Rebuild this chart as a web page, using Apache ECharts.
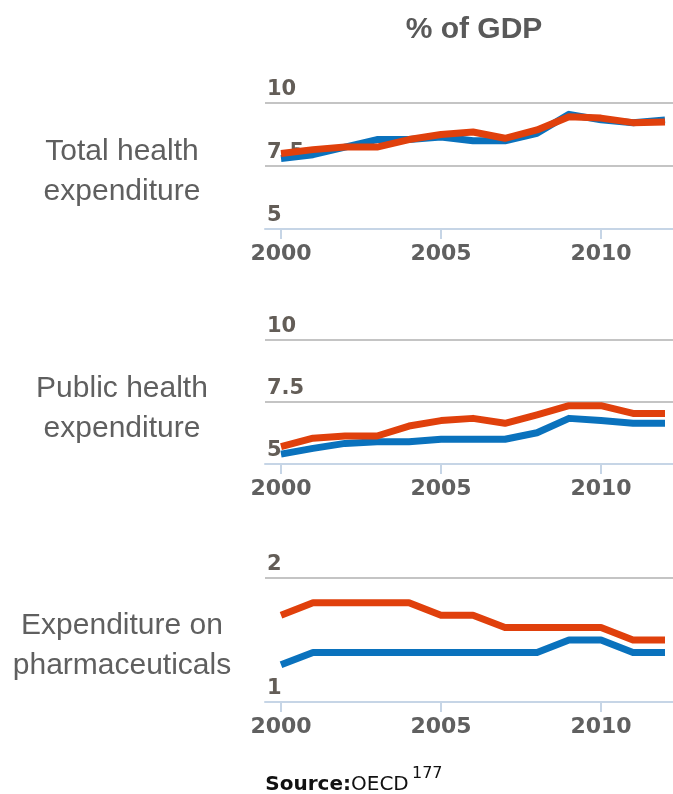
<!DOCTYPE html>
<html>
<head>
<meta charset="utf-8">
<title>% of GDP</title>
<script src="https://cdn.jsdelivr.net/npm/echarts@6/dist/echarts.min.js"></script>
<style>
  html, body { margin: 0; padding: 0; background: #fff; }
  #chart { width: 673px; height: 794px; }
</style>
</head>
<body>
<div id="chart"></div>
<script>
// data
const years = ['2000', '2001', '2002', '2003', '2004', '2005', '2006', '2007', '2008', '2009', '2010', '2011', '2012']

const totalBlue = [7.8, 7.95, 8.25, 8.55, 8.55, 8.65, 8.5, 8.5, 8.8, 9.55, 9.33, 9.22, 9.33]
const totalRed = [8.0, 8.15, 8.25, 8.25, 8.55, 8.75, 8.85, 8.6, 8.93, 9.45, 9.4, 9.22, 9.25]

const publicBlue = [5.4, 5.63, 5.83, 5.9, 5.9, 6.0, 6.0, 6.0, 6.26, 6.84, 6.75, 6.64, 6.64]
const publicRed = [5.7, 6.04, 6.13, 6.13, 6.53, 6.75, 6.84, 6.64, 6.98, 7.35, 7.35, 7.04, 7.04]

const pharmaBlue = [1.3, 1.4, 1.4, 1.4, 1.4, 1.4, 1.4, 1.4, 1.4, 1.5, 1.5, 1.4, 1.4]
const pharmaRed = [1.7, 1.8, 1.8, 1.8, 1.8, 1.7, 1.7, 1.6, 1.6, 1.6, 1.6, 1.5, 1.5]

const panelLabels = ['Total health\nexpenditure', 'Public health\nexpenditure', 'Expenditure on\npharmaceuticals']
const yMin = [5, 5, 1]
const yMax = [10, 10, 2]
const yStep = [2.5, 2.5, 1]

const blue = '#0a72bd'
const red = '#e0400c'

const gridTops = [103, 340, 578]
const gridHeights = [126, 124, 124]
const labelMiddles = [172, 409, 646]

const chart = echarts.init(document.getElementById('chart'))

const grids = gridTops.map((top, i) => ({
  left: 265,
  right: -8,
  top: top,
  height: gridHeights[i],
  containLabel: false,
  outerBoundsMode: 'none'
}))

const xAxes = gridTops.map((t, i) => ({
  type: 'category',
  gridIndex: i,
  data: years,
  boundaryGap: true,
  axisLine: { show: true, lineStyle: { color: '#c6d5e6', width: 2 } },
  axisTick: { show: true, alignWithLabel: true, interval: 4, length: 10, lineStyle: { color: '#c6d5e6', width: 2 } },
  axisLabel: {
    interval: 4,
    margin: 14,
    color: '#606060',
    fontFamily: 'DejaVu Sans',
    fontWeight: 'bold',
    fontSize: 22,
    hideOverlap: false
  },
  splitLine: { show: false }
}))

const yAxes = gridTops.map((t, i) => ({
  type: 'value',
  gridIndex: i,
  min: yMin[i],
  max: yMax[i],
  interval: yStep[i],
  axisLine: { show: false },
  axisTick: { show: false },
  axisLabel: {
    inside: true,
    margin: 2,
    verticalAlign: 'bottom',
    padding: [0, 0, 3, 0],
    color: '#635d57',
    fontFamily: 'DejaVu Sans',
    fontWeight: 'bold',
    fontSize: 21
  },
  splitLine: { show: true, showMinLine: false, lineStyle: { color: '#c4c4c4', width: 2 } }
}))

const makeLine = (name, data, color, i) => ({
  name: name,
  type: 'line',
  xAxisIndex: i,
  yAxisIndex: i,
  data: data,
  showSymbol: false,
  symbol: 'none',
  silent: true,
  lineStyle: { color: color, width: 7, join: 'round' },
  itemStyle: { color: color }
})

const series = [
  makeLine('Country', totalBlue, blue, 0),
  makeLine('OECD', totalRed, red, 0),
  makeLine('Country', publicBlue, blue, 1),
  makeLine('OECD', publicRed, red, 1),
  makeLine('Country', pharmaBlue, blue, 2),
  makeLine('OECD', pharmaRed, red, 2)
]

const graphic = panelLabels.map((txt, i) => ({
  type: 'text',
  x: 122,
  y: labelMiddles[i],
  style: {
    text: txt,
    fontFamily: 'Liberation Sans',
    fontSize: 30,
    lineHeight: 40,
    fill: '#5f5f5f',
    align: 'center',
    verticalAlign: 'middle'
  }
}))

graphic.push(
  {
    type: 'text',
    x: 474,
    y: 30,
    style: {
      text: '% of GDP',
      fontFamily: 'Liberation Sans',
      fontWeight: 'bold',
      fontSize: 30,
      fill: '#595959',
      align: 'center',
      verticalAlign: 'middle'
    }
  },
  {
    type: 'text',
    x: 351,
    y: 785,
    style: {
      text: 'Source:',
      fontFamily: 'DejaVu Sans',
      fontWeight: 'bold',
      fontSize: 20,
      fill: '#111',
      align: 'right',
      verticalAlign: 'middle'
    }
  },
  {
    type: 'text',
    x: 351,
    y: 785,
    style: {
      text: 'OECD',
      fontFamily: 'DejaVu Sans',
      fontSize: 20,
      fill: '#111',
      align: 'left',
      verticalAlign: 'middle'
    }
  },
  {
    type: 'text',
    x: 412,
    y: 774,
    style: {
      text: '177',
      fontFamily: 'DejaVu Sans',
      fontSize: 16,
      fill: '#111',
      align: 'left',
      verticalAlign: 'middle'
    }
  }
)

chart.setOption({
  animation: false,
  backgroundColor: '#fff',
  grid: grids,
  xAxis: xAxes,
  yAxis: yAxes,
  series: series,
  graphic: graphic
})

window.addEventListener('resize', () => chart.resize())
</script>
</body>
</html>
